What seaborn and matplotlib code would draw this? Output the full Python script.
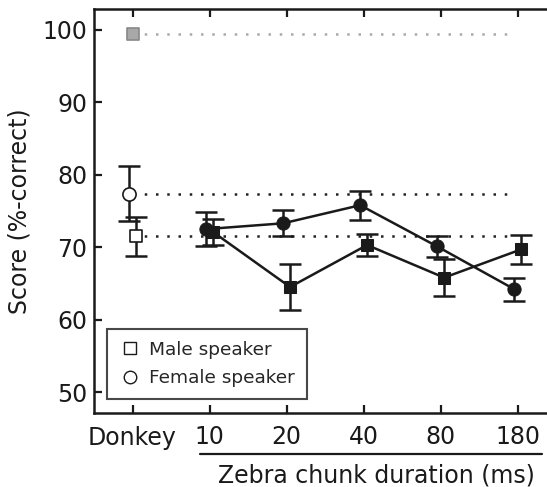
import matplotlib
matplotlib.use("Agg")
import matplotlib.pyplot as plt
import seaborn as sns
import numpy as np
import pandas as pd

sns.set_style("ticks")
plt.rcParams['font.family'] = ['DejaVu Sans']

categories = ["Donkey", "10", "20", "40", "80", "180"]
durations = ["10", "20", "40", "80", "180"]
female_mean = [72.5, 73.3, 75.8, 70.1, 64.2]
female_err = [2.3, 1.8, 2.0, 1.4, 1.6]
male_mean = [72.1, 64.5, 70.3, 65.8, 69.7]
male_err = [1.8, 3.2, 1.5, 2.6, 2.0]
donkey_female = 77.4
donkey_female_err = 3.8
donkey_male = 71.5
donkey_male_err = 2.65
donkey_ref = 99.4

W, H = 547, 487
fig = plt.figure(figsize=(W / 100, H / 100), dpi=100)
ax = fig.add_axes([94 / W, 1 - 413 / H, (547 - 94) / W, (413 - 9) / H])

pos = {c: i for i, c in enumerate(categories)}
off = 0.045
xf = [pos[d] - off for d in durations]
xm = [pos[d] + off for d in durations]

df_f = pd.DataFrame({"x": xf, "y": female_mean})
df_m = pd.DataFrame({"x": xm, "y": male_mean})

ink = "#1a1a1a"
lw = 1.8
cap = 8
# reference lines
ax.hlines(donkey_ref, 0, 4.9, colors="#aaaaaa", linestyles=(0, (1, 3.5)), lw=1.8, zorder=1)
ax.hlines(donkey_female, 0, 4.9, colors="#222222", linestyles=(0, (1, 3.5)), lw=1.8, zorder=1)
ax.hlines(donkey_male, 0, 4.9, colors="#222222", linestyles=(0, (1, 3.5)), lw=1.8, zorder=1)

# error bars
ekw = dict(fmt="none", ecolor=ink, elinewidth=lw, capsize=cap, capthick=lw, zorder=2)
ax.errorbar(xf, female_mean, yerr=female_err, **ekw)
ax.errorbar(xm, male_mean, yerr=male_err, **ekw)
ax.errorbar([0 - off], [donkey_female], yerr=[donkey_female_err], **ekw)
ax.errorbar([0 + off], [donkey_male], yerr=[donkey_male_err], **ekw)

sns.lineplot(data=df_f, x="x", y="y", ax=ax, color=ink, lw=lw, marker="o", markersize=9.5,
             markerfacecolor=ink, markeredgecolor=ink, zorder=3, legend=False)
sns.lineplot(data=df_m, x="x", y="y", ax=ax, color=ink, lw=lw, marker="s", markersize=9,
             markerfacecolor=ink, markeredgecolor=ink, zorder=3, legend=False)

sns.scatterplot(x=[0 - off], y=[donkey_female], ax=ax, marker="o", s=90, facecolor="white",
                edgecolor=ink, linewidth=1.2, zorder=4, legend=False)
sns.scatterplot(x=[0 + off], y=[donkey_male], ax=ax, marker="s", s=80, facecolor="white",
                edgecolor=ink, linewidth=1.2, zorder=4, legend=False)
sns.scatterplot(x=[0], y=[donkey_ref], ax=ax, marker="s", s=85, facecolor="#a8a8a8",
                edgecolor="#888888", linewidth=1.2, zorder=4, legend=False)

ax.set_xlim(-0.5, 5.38)
ax.set_ylim(47.1, 102.9)
ax.set_xticks(range(len(categories)))
ax.set_xticklabels(categories)
ax.set_yticks([50, 60, 70, 80, 90, 100])
ax.tick_params(axis="both", direction="in", length=6, width=1.6, labelsize=17, colors=ink, pad=5)
ax.tick_params(axis="x", top=True, pad=9)
for s in ["left", "bottom", "top"]:
    ax.spines[s].set_visible(True)
    ax.spines[s].set_linewidth(1.8)
    ax.spines[s].set_color(ink)
ax.spines["right"].set_visible(False)
ax.set_xlabel("")
ax.set_ylabel("Score (%-correct)", fontsize=17, color=ink, labelpad=8)

# legend
from matplotlib.lines import Line2D
handles = [Line2D([], [], marker="s", ls="none", markersize=9, markerfacecolor="white", markeredgecolor=ink, markeredgewidth=1.0),
           Line2D([], [], marker="o", ls="none", markersize=9, markerfacecolor="white", markeredgecolor=ink, markeredgewidth=1.0)]
leg = ax.legend(handles, ["Male speaker", "Female speaker"], loc="lower left",
                bbox_to_anchor=((107 - 94) / (547 - 94), (413 - 399) / (413 - 9)),
                fontsize=13.3, frameon=True, fancybox=False, edgecolor=ink,
                handletextpad=0.45, handlelength=1.2, borderpad=0.65, labelspacing=0.55, borderaxespad=0)
leg.get_frame().set_linewidth(1.5)

# secondary underline & label
fig.add_artist(Line2D([200 / W, 542 / W], [1 - 454 / H, 1 - 454 / H], color=ink, lw=1.6))
fig.text(376 / W, 1 - 475 / H, "Zebra chunk duration (ms)", ha="center", va="center", fontsize=17, color=ink)

fig.savefig("out.png", dpi=100)
